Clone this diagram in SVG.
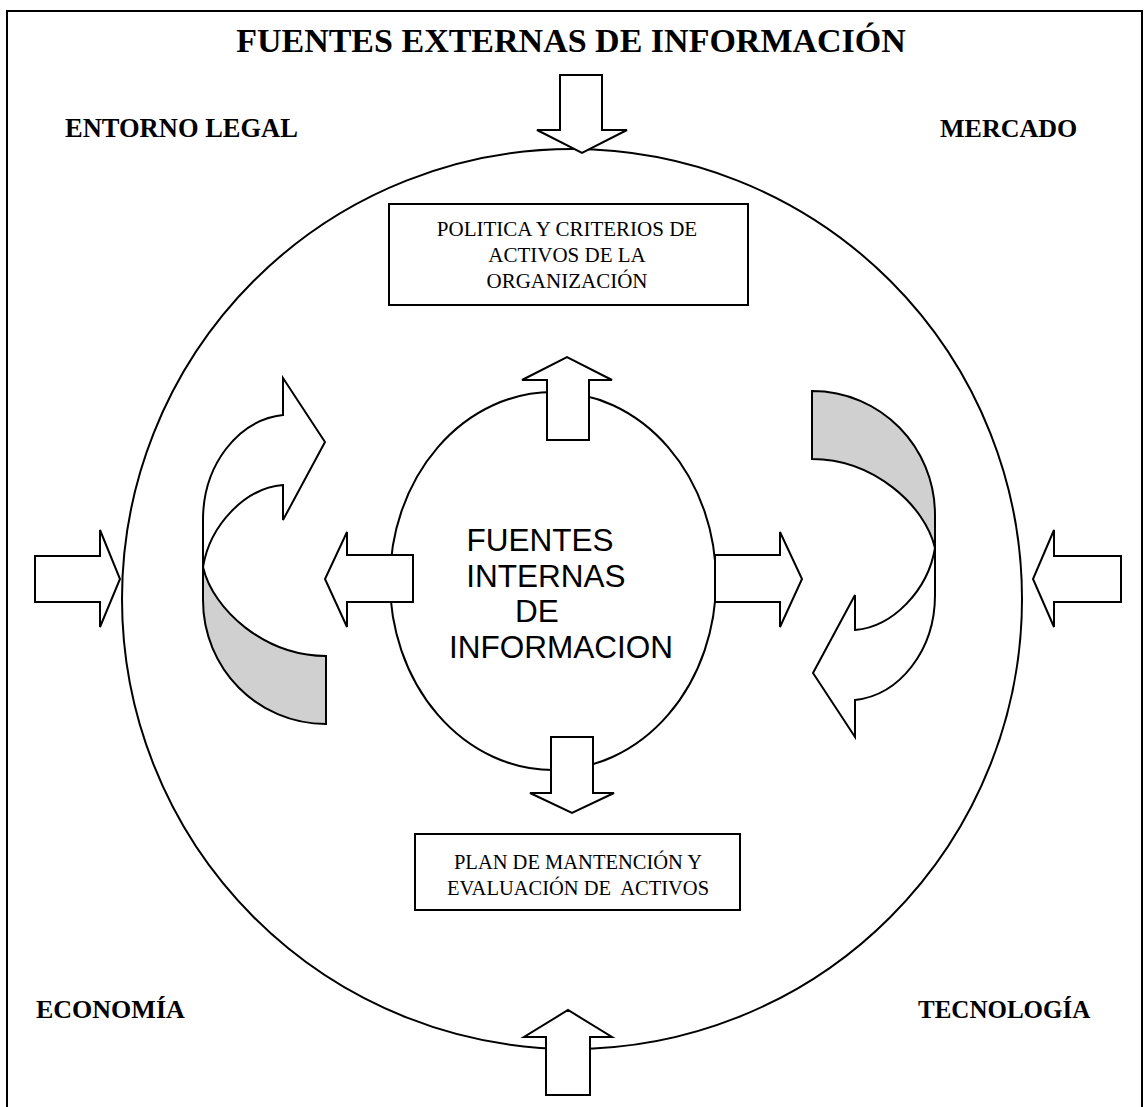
<svg xmlns="http://www.w3.org/2000/svg" width="1144" height="1107" viewBox="0 0 1144 1107">
<style>
.ln{fill:none;stroke:#000;stroke-width:2}
.ar{fill:#fff;stroke:#000;stroke-width:2;stroke-linejoin:miter}
.sh{fill:#d0d0d0;stroke:#000;stroke-width:2}
.box{fill:#fff;stroke:#000;stroke-width:2}
.t{font-family:"Liberation Serif","Times New Roman",serif;fill:#000}
.b{font-weight:bold}
.s{font-family:"Liberation Sans",Arial,sans-serif;fill:#000}
</style>
<defs>
<g id="curved">
<path class="sh" d="M326,656 C265,656 213,610 203,567 L203,600 C203,668 257,724 326,724 Z"/>
<path class="ar" d="M203,567 L203,520 C203,465 238,420 283,415 L283,378 L325,442 L283,520 L283,485 C245,488 210,525 203,567 Z"/>
</g>
</defs>
<g id="frame">
<path class="ln" d="M7,1107 L7,11 L1142,11 L1142,1107"/>
</g>
<g id="outer-circle">
<circle class="ln" cx="572" cy="599" r="450"/>
</g>
<g id="inner-circle">
<ellipse class="ln" cx="553" cy="581" rx="163" ry="189"/>
<text class="s" font-size="31.5" text-anchor="middle"><tspan x="540" y="551">FUENTES</tspan><tspan x="546" y="587">INTERNAS</tspan><tspan x="537" y="622">DE</tspan><tspan x="561" y="658">INFORMACION</tspan></text>
</g>
<g id="box-politica">
<rect class="box" x="389" y="204" width="359" height="101"/>
<text class="t" font-size="21" text-anchor="middle"><tspan x="567" y="236">POLITICA Y CRITERIOS DE</tspan><tspan x="567" y="262">ACTIVOS DE LA</tspan><tspan x="567" y="288">ORGANIZACIÓN</tspan></text>
</g>
<g id="box-plan">
<rect class="box" x="415" y="834" width="325" height="76"/>
<text class="t" font-size="20.5" text-anchor="middle"><tspan x="578" y="869">PLAN DE MANTENCIÓN Y</tspan><tspan x="578" y="895" xml:space="preserve">EVALUACIÓN DE  ACTIVOS</tspan></text>
</g>
<g id="connectors">
<polygon class="ar" points="560,75 602,75 602,130 627,130 582,153 537,130 560,130"/>
<polygon class="ar" points="546,1095 590,1095 590,1037 612,1037 568,1010 524,1037 546,1037"/>
<polygon class="ar" points="35,556 100,556 100,530 120,579 100,627 100,602 35,602"/>
<polygon class="ar" points="1121,556 1054,556 1054,530 1033,579 1054,627 1054,602 1121,602"/>
<polygon class="ar" points="547,440 589,440 589,380 612,380 567,357 522,380 547,380"/>
<polygon class="ar" points="551,737 593,737 593,793 614,793 572,813 530,793 551,793"/>
<polygon class="ar" points="413,555 347,555 347,532 325,579 347,627 347,602 413,602"/>
<polygon class="ar" points="715,555 780,555 780,532 802,579 780,627 780,602 715,602"/>
<use href="#curved"/>
<use href="#curved" transform="rotate(180 569 557.5)"/>
</g>
<g id="title">
<text class="t b" font-size="34" x="571" y="52" text-anchor="middle">FUENTES EXTERNAS DE INFORMACIÓN</text>
</g>
<g id="labels">
<text class="t b" font-size="26.5" x="65" y="137">ENTORNO LEGAL</text>
<text class="t b" font-size="26" x="940" y="137">MERCADO</text>
<text class="t b" font-size="26" x="36" y="1018">ECONOMÍA</text>
<text class="t b" font-size="25" x="918" y="1018">TECNOLOGÍA</text>
</g>
</svg>
